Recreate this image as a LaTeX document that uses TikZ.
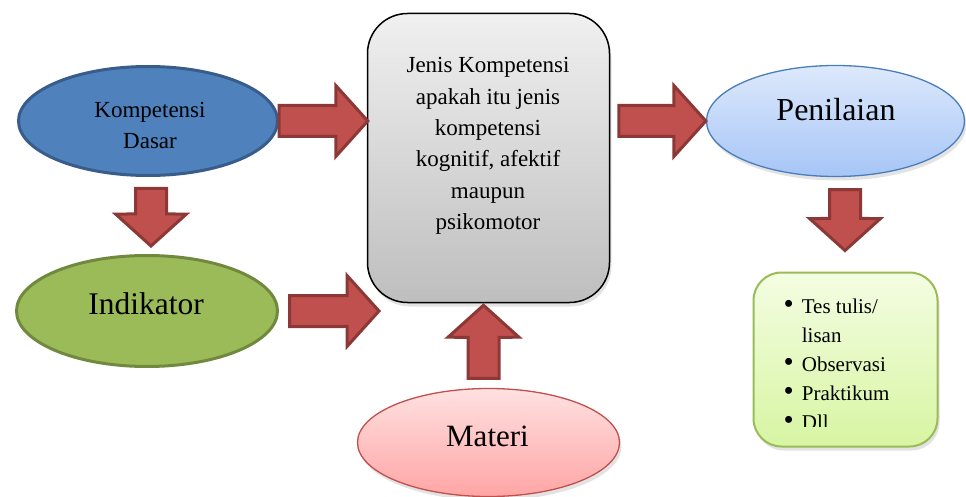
\documentclass[tikz,border=0pt]{standalone}
\usepackage{fontspec}
\setmainfont{Liberation Serif}
\usetikzlibrary{shapes.geometric,calc,shadows}
\definecolor{arrowred}{HTML}{C0504D}
\definecolor{arrowdark}{HTML}{8C3836}
\definecolor{kdfill}{HTML}{4F81BD}
\definecolor{kddraw}{HTML}{385D8A}
\definecolor{indfill}{HTML}{9BBB59}
\definecolor{inddraw}{HTML}{71893F}
\definecolor{boxtop}{HTML}{F0F0F0}
\definecolor{boxbot}{HTML}{BEBEBE}
\definecolor{pentop}{HTML}{DDE9FC}
\definecolor{penbot}{HTML}{A6C5F6}
\definecolor{pendraw}{HTML}{4A7EBB}
\definecolor{mattop}{HTML}{FFE1E1}
\definecolor{matbot}{HTML}{FFA5A5}
\definecolor{matdraw}{HTML}{C0504D}
\definecolor{lsttop}{HTML}{F4FDE2}
\definecolor{lstbot}{HTML}{D7F5A2}
\definecolor{lstdraw}{HTML}{9BBB59}
\newcommand{\bigbul}{{\fontsize{29}{29}\selectfont\textbullet}}
\begin{document}
\begin{tikzpicture}[x=1pt,y=-1pt,
  blockarrow/.style={draw=arrowdark, fill=arrowred, line width=3pt, line join=miter,
    to path={($(\tikztostart)!15.5pt!90:(\tikztotarget)$)
      -- ($(\tikztotarget)!35.56pt!-25.84:(\tikztostart)$)
      -- ($(\tikztotarget)!47.79pt!-47.97:(\tikztostart)$)
      -- (\tikztotarget)
      -- ($(\tikztotarget)!47.79pt!47.97:(\tikztostart)$)
      -- ($(\tikztotarget)!35.56pt!25.84:(\tikztostart)$)
      -- ($(\tikztostart)!15.5pt!-90:(\tikztotarget)$) -- cycle}},
  ell/.style={ellipse, inner sep=0pt},
  shad/.style={drop shadow={shadow xshift=2pt, shadow yshift=-4pt, opacity=0.22}},
  lbl/.style={inner sep=0pt, text=black}]
\fill[white] (0,0) rectangle (966,497);
\useasboundingbox (0,0) rectangle (966,497);

% shapes
\node[ell, draw=kddraw, fill=kdfill, line width=3pt, minimum width=259pt, minimum height=109pt] (kd) at (148,121) {};
\node[ell, draw=inddraw, fill=indfill, line width=3pt, minimum width=261pt, minimum height=111pt] (ind) at (147,311) {};
\node[draw=black, line width=1.5pt, rounded corners=40pt, top color=boxtop, bottom color=boxbot,
      minimum width=242pt, minimum height=289pt, inner sep=0pt, shad] (box) at (488.5,158) {};
\node[ell, draw=pendraw, line width=1.3pt, top color=pentop, bottom color=penbot,
      minimum width=258pt, minimum height=111pt, shad] (pen) at (835.5,121) {};
\node[ell, draw=matdraw, line width=1.3pt, top color=mattop, bottom color=matbot,
      minimum width=262pt, minimum height=108pt, shad] (mat) at (488.5,442.5) {};
\node[draw=lstdraw, line width=2pt, rounded corners=28pt, top color=lsttop, bottom color=lstbot,
      minimum width=184pt, minimum height=174pt, inner sep=0pt, shad] (lst) at (845.5,359.5) {};

% texts
\node[lbl, anchor=north, align=center, font=\fontsize{23}{31}\selectfont] (kdtext) at (150,102.3) {Kompetensi\\Dasar};
\node[lbl, anchor=base, font=\fontsize{31.5}{36}\selectfont] (indtext) at (146,314) {Indikator};
\node[lbl, anchor=north, align=center, font=\fontsize{23}{31.4}\selectfont] (boxtext) at (488,57.3)
  {Jenis Kompetensi\\apakah itu jenis\\kompetensi\\kognitif, afektif\\maupun\\psikomotor};
\node[lbl, anchor=base, font=\fontsize{32}{38}\selectfont] (pentext) at (836,121) {Penilaian};
\node[lbl, anchor=base, font=\fontsize{31}{36}\selectfont] (mattext) at (487.5,446) {Materi};
\begin{scope}
  \clip (745,265) rectangle (945,426);
  \node[lbl, anchor=north west, font=\fontsize{21}{29}\selectfont] (lsttext) at (783.5,293)
    {\begin{tabular}{@{}l@{\hspace{8pt}}l@{}}\bigbul & Tes tulis/\\ & lisan\\ \bigbul & Observasi\\ \bigbul & Praktikum\\ \bigbul & Dll\end{tabular}};
\end{scope}

% arrow end points
\coordinate (s1) at (kd.east);
\coordinate (t1) at ($(kd.east -| box.west)+(1,0)$);
\coordinate (s2) at ($(kd.south)+(3,11.5)$);
\coordinate (t2) at ($(ind.north)+(4,-8)$);
\coordinate (s3) at ($(ind.east)+(10.5,0)$);
\coordinate (t3) at ($(ind.east)+(100,0)$);
\coordinate (s4) at ($(mat.north)+(-5,-9.5)$);
\coordinate (t4) at ($(box.south)+(-5,2)$);
\coordinate (s5) at ($(box.east |- pen.west)+(8.5,0)$);
\coordinate (t5) at (pen.west);
\coordinate (s6) at ($(pen.south)+(9.5,12.5)$);
\coordinate (t6) at ($(lst.north)+(-0.5,-21)$);

% arrows
\draw[blockarrow] (s1) to (t1);
\draw[blockarrow] (s2) to (t2);
\draw[blockarrow] (s3) to (t3);
\draw[blockarrow] (s4) to (t4);
\draw[blockarrow] (s5) to (t5);
\draw[blockarrow] (s6) to (t6);
\end{tikzpicture}
\end{document}
